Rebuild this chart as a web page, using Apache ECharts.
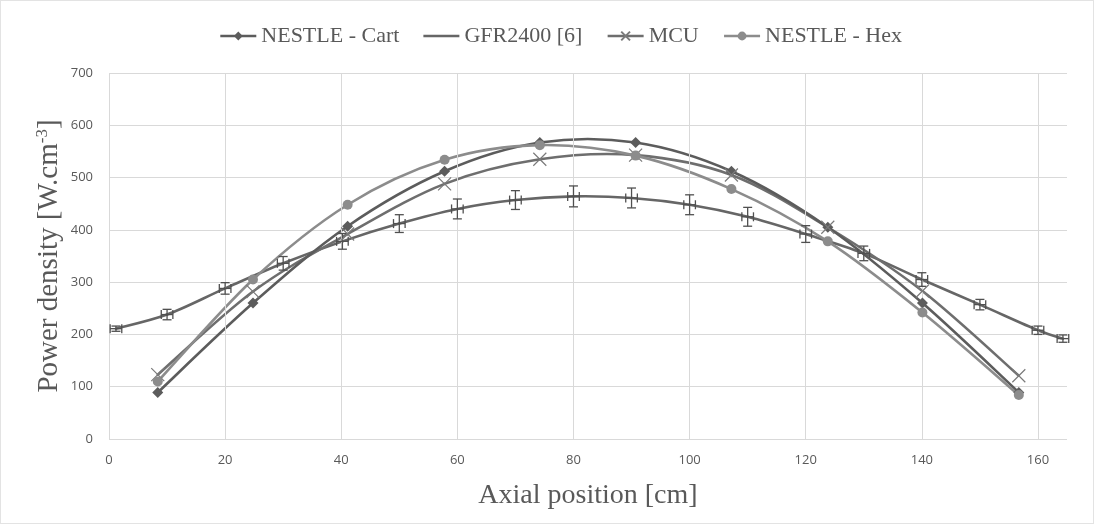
<!DOCTYPE html>
<html>
<head>
<meta charset="utf-8">
<script src="https://cdn.jsdelivr.net/npm/echarts@6/dist/echarts.min.js"></script>
<style>
  html, body { margin: 0; padding: 0; background: #fff; }
  #main { width: 1094px; height: 524px; box-sizing: border-box; border: 1px solid #e3e3e3; }
</style>
</head>
<body>
<div id="main"></div>
<script>
// NESTLE / MCU axial positions (cm)
const nestleX = [8.4, 24.8, 41.1, 57.8, 74.2, 90.7, 107.2, 123.8, 140.1, 156.7];
const cartY = [89, 260, 407, 512, 567, 567, 512, 405, 260, 89];
const mcuY = [123, 282, 392, 488, 535, 543, 505, 405, 283, 121];
const hexY = [110, 305, 448, 534, 562, 542, 478, 378, 242, 84];

// GFR2400 reference with error bars
const gfrX = [1.2, 10, 20, 30, 40.2, 50, 60, 70, 80, 90, 100, 110, 120, 130, 140, 150, 160, 164.3];
const gfrY = [211, 238, 288, 336, 378, 412, 440, 457, 464, 461, 448, 425, 392, 355, 305, 257, 208, 192];
const gfrErr = [5, 10, 11, 13, 15, 17, 19, 18, 20, 19, 19, 18, 16, 14, 13, 10, 8, 7];
const gfrXErr = 1;

const xTicks = [0, 20, 40, 60, 80, 100, 120, 140, 160];

const zip = (xs, ys) => xs.map((x, i) => [x, ys[i]]);

const myChart = echarts.init(document.getElementById('main'));

const labelColor = '#595959';
const serif = '"Liberation Serif", "DejaVu Serif", serif';
const sans = '"Open Sans", "Noto Sans", sans-serif';

// Excel-like smoothed line (Catmull-Rom through the data points)
function curveRenderer(xs, ys, color) {
  return function (params, api) {
    const i = params.dataIndex;
    const n = xs.length;
    if (i >= n - 1) return null;
    const p = k => api.coord([xs[Math.max(0, Math.min(n - 1, k))], ys[Math.max(0, Math.min(n - 1, k))]]);
    const p0 = p(i - 1), p1 = p(i), p2 = p(i + 1), p3 = p(i + 2);
    const t = 6;
    return {
      type: 'bezierCurve',
      shape: {
        x1: p1[0], y1: p1[1], x2: p2[0], y2: p2[1],
        cpx1: p1[0] + (p2[0] - p0[0]) / t, cpy1: p1[1] + (p2[1] - p0[1]) / t,
        cpx2: p2[0] - (p3[0] - p1[0]) / t, cpy2: p2[1] - (p3[1] - p1[1]) / t
      },
      style: { stroke: color, lineWidth: 2.6, fill: null, lineCap: 'round' }
    };
  };
}

function curveSeries(name, xs, ys, color, z) {
  return {
    name: name,
    type: 'custom',
    renderItem: curveRenderer(xs, ys, color),
    data: zip(xs, ys),
    encode: { x: 0, y: 1 },
    silent: true,
    z: z
  };
}

function renderErr(params, api) {
  const x = api.value(0), y = api.value(1), ey = api.value(2), ex = api.value(3);
  const top = api.coord([x, y + ey]);
  const bot = api.coord([x, y - ey]);
  const lft = api.coord([x - ex, y]);
  const rgt = api.coord([x + ex, y]);
  const cap = 4.5;
  const st = { stroke: '#505050', lineWidth: 1.3 };
  const ln = (x1, y1, x2, y2) => ({ type: 'line', shape: { x1, y1, x2, y2 }, style: st });
  return {
    type: 'group',
    children: [
      ln(top[0], top[1], bot[0], bot[1]),
      ln(top[0] - cap, top[1], top[0] + cap, top[1]),
      ln(bot[0] - cap, bot[1], bot[0] + cap, bot[1]),
      ln(lft[0], lft[1], rgt[0], rgt[1]),
      ln(lft[0], lft[1] - cap, lft[0], lft[1] + cap),
      ln(rgt[0], rgt[1] - cap, rgt[0], rgt[1] + cap)
    ]
  };
}

const option = {
  backgroundColor: '#fff',
  animation: false,
  legend: {
    top: 19,
    left: 213,
    itemWidth: 36,
    itemHeight: 11,
    itemGap: 24,
    lineStyle: { opacity: 1, width: 2.6 },
    textStyle: { fontFamily: serif, fontSize: 22, color: labelColor },
    data: [
      'NESTLE - Cart',
      { name: 'GFR2400 [6]', icon: 'path://M0,0L36,0L36,2.6L0,2.6Z' },
      'MCU',
      'NESTLE - Hex'
    ]
  },
  grid: { left: 108, right: 26, top: 72, bottom: 84 },
  xAxis: {
    type: 'value',
    min: 0,
    max: 165,
    interval: 20,
    name: 'Axial position [cm]',
    nameLocation: 'middle',
    nameGap: 43,
    nameTextStyle: { fontFamily: serif, fontSize: 28, color: labelColor },
    axisLine: { show: false },
    axisTick: { show: false },
    splitLine: { show: false },
    axisLabel: {
      color: labelColor, fontSize: 13, fontFamily: sans, margin: 15,
      formatter: v => (v % 20 === 0 ? v : '')
    }
  },
  yAxis: {
    type: 'value',
    min: 0,
    max: 700,
    interval: 100,
    name: '{a|Power density [W.cm}{s|-3}{a|]}',
    nameLocation: 'middle',
    nameGap: 44,
    nameMoveOverlap: false,
    nameTextStyle: {
      color: labelColor,
      rich: {
        a: { fontFamily: serif, fontSize: 29, color: labelColor },
        s: { fontFamily: serif, fontSize: 17, color: labelColor, padding: [0, 0, 14, 0] }
      }
    },
    axisLine: { show: false },
    axisTick: { show: false },
    splitLine: { lineStyle: { color: '#d9d9d9', width: 1 } },
    axisLabel: { color: labelColor, fontSize: 13, fontFamily: sans, margin: 16 }
  },
  series: [
    {
      name: 'NESTLE - Cart',
      type: 'line',
      data: zip(nestleX, cartY),
      symbol: 'diamond',
      symbolSize: 11,
      color: '#5c5c5c',
      lineStyle: { width: 2.6, color: '#5c5c5c', opacity: 0 },
      itemStyle: { color: '#5c5c5c' },
      z: 6,
      markLine: {
        silent: true,
        symbol: 'none',
        label: { show: false },
        lineStyle: { color: '#d9d9d9', width: 1, type: 'solid' },
        data: xTicks.map(t => ({ xAxis: t }))
      }
    },
    {
      name: 'GFR2400 [6]',
      type: 'line',
      data: zip(gfrX, gfrY),
      symbol: 'none',
      color: '#666666',
      lineStyle: { width: 2.6, color: '#666666', opacity: 0 },
      itemStyle: { color: '#666666' },
      z: 3
    },
    {
      name: 'MCU',
      type: 'line',
      data: zip(nestleX, mcuY),
      symbol: 'path://M0,0L10,10M10,0L0,10',
      symbolSize: 13,
      color: '#6e6e6e',
      lineStyle: { width: 2.6, color: '#6e6e6e', opacity: 0 },
      itemStyle: { color: '#6e6e6e', borderColor: '#7a7a7a', borderWidth: 1.2 },
      z: 6
    },
    {
      name: 'NESTLE - Hex',
      type: 'line',
      data: zip(nestleX, hexY),
      symbol: 'circle',
      symbolSize: 10,
      color: '#8c8c8c',
      lineStyle: { width: 2.6, color: '#8c8c8c', opacity: 0 },
      itemStyle: { color: '#8c8c8c' },
      z: 6
    },
    curveSeries('gfr-curve', gfrX, gfrY, '#666666', 3),
    curveSeries('mcu-curve', nestleX, mcuY, '#6e6e6e', 4),
    curveSeries('cart-curve', nestleX, cartY, '#5c5c5c', 4),
    curveSeries('hex-curve', nestleX, hexY, '#8c8c8c', 4),
    {
      name: 'gfr-err',
      type: 'custom',
      renderItem: renderErr,
      data: gfrX.map((x, i) => [x, gfrY[i], gfrErr[i], gfrXErr]),
      encode: { x: 0, y: 1 },
      silent: true,
      z: 5
    }
  ]
};

myChart.setOption(option);
</script>
</body>
</html>
